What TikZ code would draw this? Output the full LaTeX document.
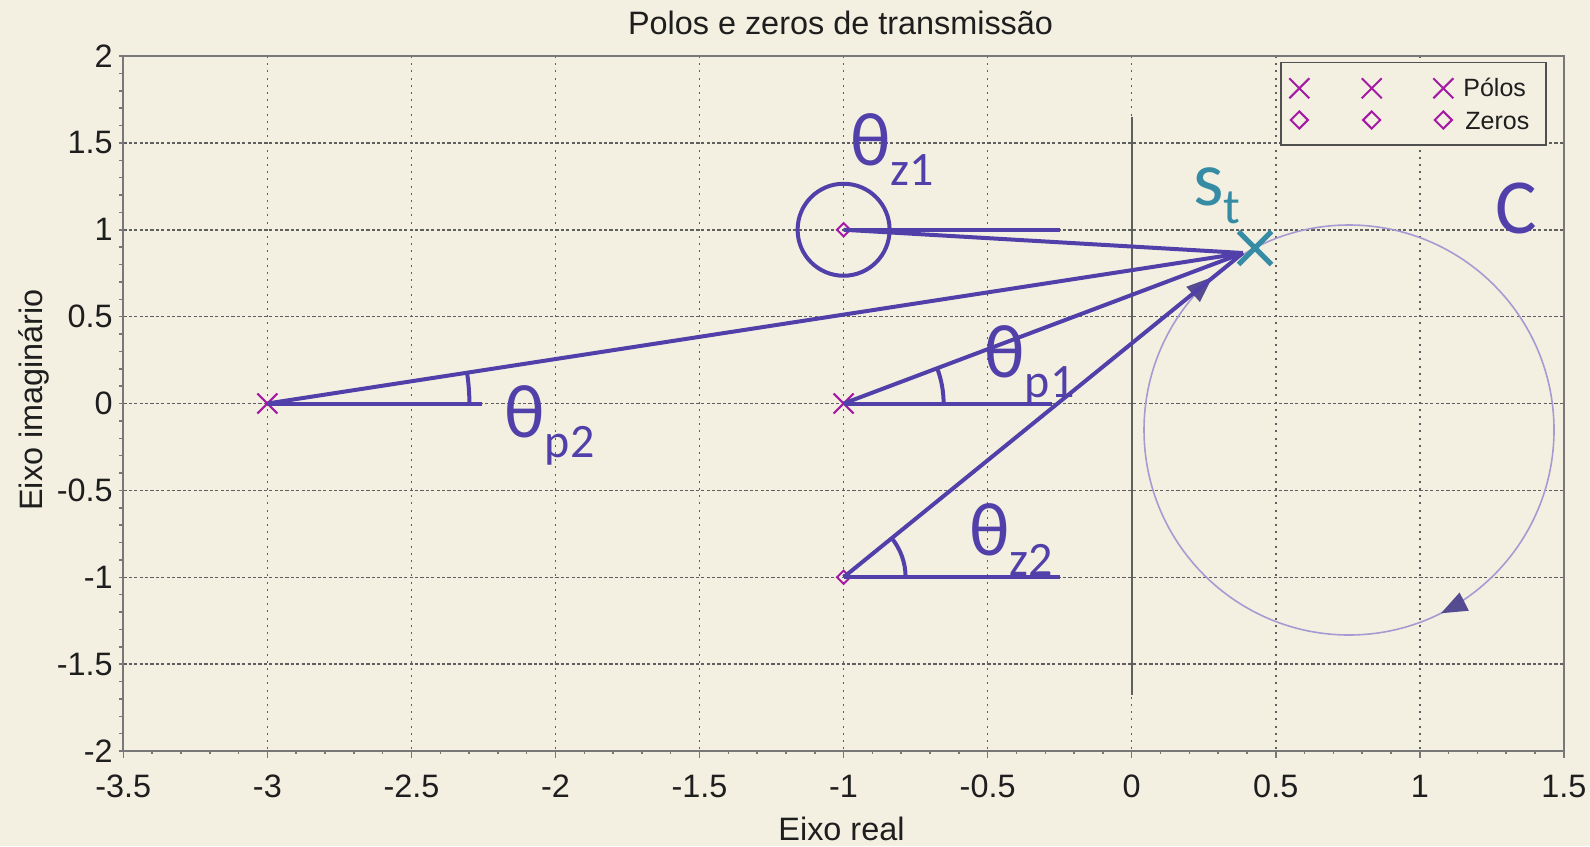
\documentclass[tikz,border=0pt]{standalone}
\usepackage{fontspec}
\setmainfont{Liberation Sans}
\newfontfamily\calfont{Carlito}
\usetikzlibrary{angles,arrows.meta,decorations.markings,shapes.misc,shapes.geometric}
\definecolor{bgc}{RGB}{243,240,225}
\definecolor{gridc}{RGB}{95,95,95}
\definecolor{framec}{RGB}{120,120,120}
\definecolor{legc}{RGB}{80,80,80}
\definecolor{purp}{RGB}{82,64,170}
\definecolor{tealc}{RGB}{55,140,165}
\definecolor{magc}{RGB}{165,25,165}
\definecolor{lavc}{RGB}{165,155,210}
\definecolor{arrc}{RGB}{85,75,145}
\definecolor{txtc}{RGB}{30,30,30}
\newcommand\biglab[2]{{\fontsize{38}{38}\selectfont #1}{\fontsize{24}{24}\selectfont\raisebox{-10pt}{#2}}}
\begin{document}
\begin{tikzpicture}[x=0.5pt,y=-0.5pt,
  axlab/.style={font=\fontsize{16.2}{16.2}\selectfont, text=txtc, inner sep=0pt},
  leglab/.style={font=\fontsize{12.5}{12.5}\selectfont, text=txtc, inner sep=0pt, anchor=base west},
  gridv/.style={draw=gridc, line width=0.75pt, dash pattern=on 1pt off 2.6pt},
  gridh/.style={draw=gridc, line width=0.75pt, dash pattern=on 1.6pt off 1.1pt},
  frame/.style={draw=framec, line width=1pt},
  tickst/.style={draw=framec, line width=0.75pt},
  vec/.style={draw=purp, line width=2pt},
  ang/.style={draw=purp, line width=2pt},
  polemark/.style={cross out, draw=magc, line width=1pt, minimum size=9pt, inner sep=0pt},
  zeromark/.style={diamond, draw=magc, line width=1pt, minimum size=7pt, inner sep=0pt},
  labc/.style={font=\calfont, text=purp, inner sep=0pt, anchor=base west}
]
\useasboundingbox (0,0) rectangle (1590,846);
\fill[bgc] (0,0) rectangle (1590,846);

% grid
\foreach \a in {-3,-2.5,-2,-1.5,-1,-0.5,0,0.5,1}
  \draw[gridv] ({1131.7+288.1*\a},56) -- ({1131.7+288.1*\a},751);
\foreach \b in {-1.5,-1,-0.5,0,0.5,1,1.5}
  \draw[gridh] (123.35,{403.5-173.75*\b}) -- (1563.85,{403.5-173.75*\b});

% ticks
\foreach \i in {0,...,40}
  \draw[tickst] (123.35,{56+17.375*\i}) -- ++(-4.5,0);
\foreach \i in {0,...,50}
  \draw[tickst] ({123.35+28.81*\i},751) -- ++(0,3);
\foreach \a in {-3.5,-3,-2.5,-2,-1.5,-1,-0.5,0,0.5,1,1.5}
  \draw[tickst] ({1131.7+288.1*\a},751) -- ++(0,7);

% frame and zero axis
\draw[frame] (123.35,56) rectangle (1563.85,751);
\draw[draw=gridc, line width=0.9pt] (1131.7,116.7) -- (1131.7,695);

% tick labels
\foreach \a/\t in {-3.5/-3.5,-3/-3,-2.5/-2.5,-2/-2,-1.5/-1.5,-1/-1,-0.5/-0.5,0/0,0.5/0.5,1/1,1.5/1.5}
  \node[axlab, anchor=base] at ({1131.7+288.1*\a},797) {\t};
\foreach \b/\t in {2/2,1.5/1.5,1/1,0.5/0.5,0/0,-0.5/-0.5,-1/-1,-1.5/-1.5,-2/-2}
  \node[axlab, anchor=east] at (113,{403.5-173.75*\b}) {\t};

% titles
\node[axlab, anchor=base] (title) at (840.5,34) {Polos e zeros de transmissão};
\node[axlab, anchor=base] (xlab) at (841.5,840) {Eixo real};
\node[axlab, anchor=base, rotate=90] (ylab) at (42,400) {Eixo imaginário};

% legend
\draw[draw=legc, line width=0.75pt, fill=bgc] (1281,62.7) rectangle (1546,145);
\node[polemark] (lp1) at (1299.3,88.3) {};
\node[polemark] (lp2) at (1371.7,88.3) {};
\node[polemark] (lp3) at (1443.3,88.3) {};
\node[zeromark, minimum size=9pt] (lz1) at (1299.3,120) {};
\node[zeromark, minimum size=9pt] (lz2) at (1371.7,120) {};
\node[zeromark, minimum size=9pt] (lz3) at (1443.3,120) {};
\node[leglab] (lpt) at (1463,96.7) {Pólos};
\node[leglab] (lzt) at (1465,129.3) {Zeros};

% poles and zeros
\node[polemark] (P2) at (267.4,403.5) {};
\node[polemark] (P1) at (843.6,403.5) {};
\node[zeromark] (Z1) at (843.6,229.75) {};
\node[zeromark] (Z2) at (843.6,577.25) {};

% contour C
\coordinate (Cc) at (1349,430);
\draw[draw=lavc, line width=0.8pt, postaction={decorate},
  decoration={markings,
    mark=at position 0.366 with {\arrowreversed{Triangle[length=13pt,width=10pt,color=arrc]}},
    mark=at position 0.824 with {\arrowreversed{Triangle[length=13pt,width=10pt,color=arrc]}}}]
  (Cc) circle[radius=102.5pt];

% vectors
\coordinate (S) at (1243,253);
\coordinate (H1) at (1060,229.75);
\coordinate (H2) at (481.7,403.5);
\coordinate (H3) at (1051.6,403.5);
\coordinate (H4) at (1060,577.25);
\draw[vec] (Z1.center) -- (H1);
\draw[vec] (P2.center) -- (H2);
\draw[vec] (P1.center) -- (H3);
\draw[vec] (Z2.center) -- (H4);
\draw[vec] (Z1.center) -- (S);
\draw[vec] (P2.center) -- (S);
\draw[vec] (P1.center) -- (S);
\draw[vec] (Z2.center) -- (S);
\draw[vec] (Z1.center) circle[radius=23pt];
\pic[ang, angle radius=101pt] {angle=H2--P2--S};
\pic[ang, angle radius=50pt] {angle=H3--P1--S};
\pic[ang, angle radius=31pt] {angle=H4--Z2--S};

% test point
\node[cross out, draw=tealc, line width=2.5pt, minimum size=14pt, inner sep=0pt] (st) at (1255,248) {};

% labels
\node[labc] (thz1) at (850,165) {\biglab{θ}{z1}};
\node[labc] (thp1) at (984,377) {\biglab{θ}{p1}};
\node[labc] (thp2) at (504,437) {\biglab{θ}{p2}};
\node[labc] (thz2) at (969,555) {\biglab{θ}{z2}};
\node[labc, text=tealc] (stl) at (1193,205) {{\fontsize{39}{39}\selectfont s}{\fontsize{25}{25}\selectfont\raisebox{-9pt}{t}}};
\node[labc] (cl) at (1495,233) {\fontsize{39}{39}\selectfont C};
\end{tikzpicture}
\end{document}
